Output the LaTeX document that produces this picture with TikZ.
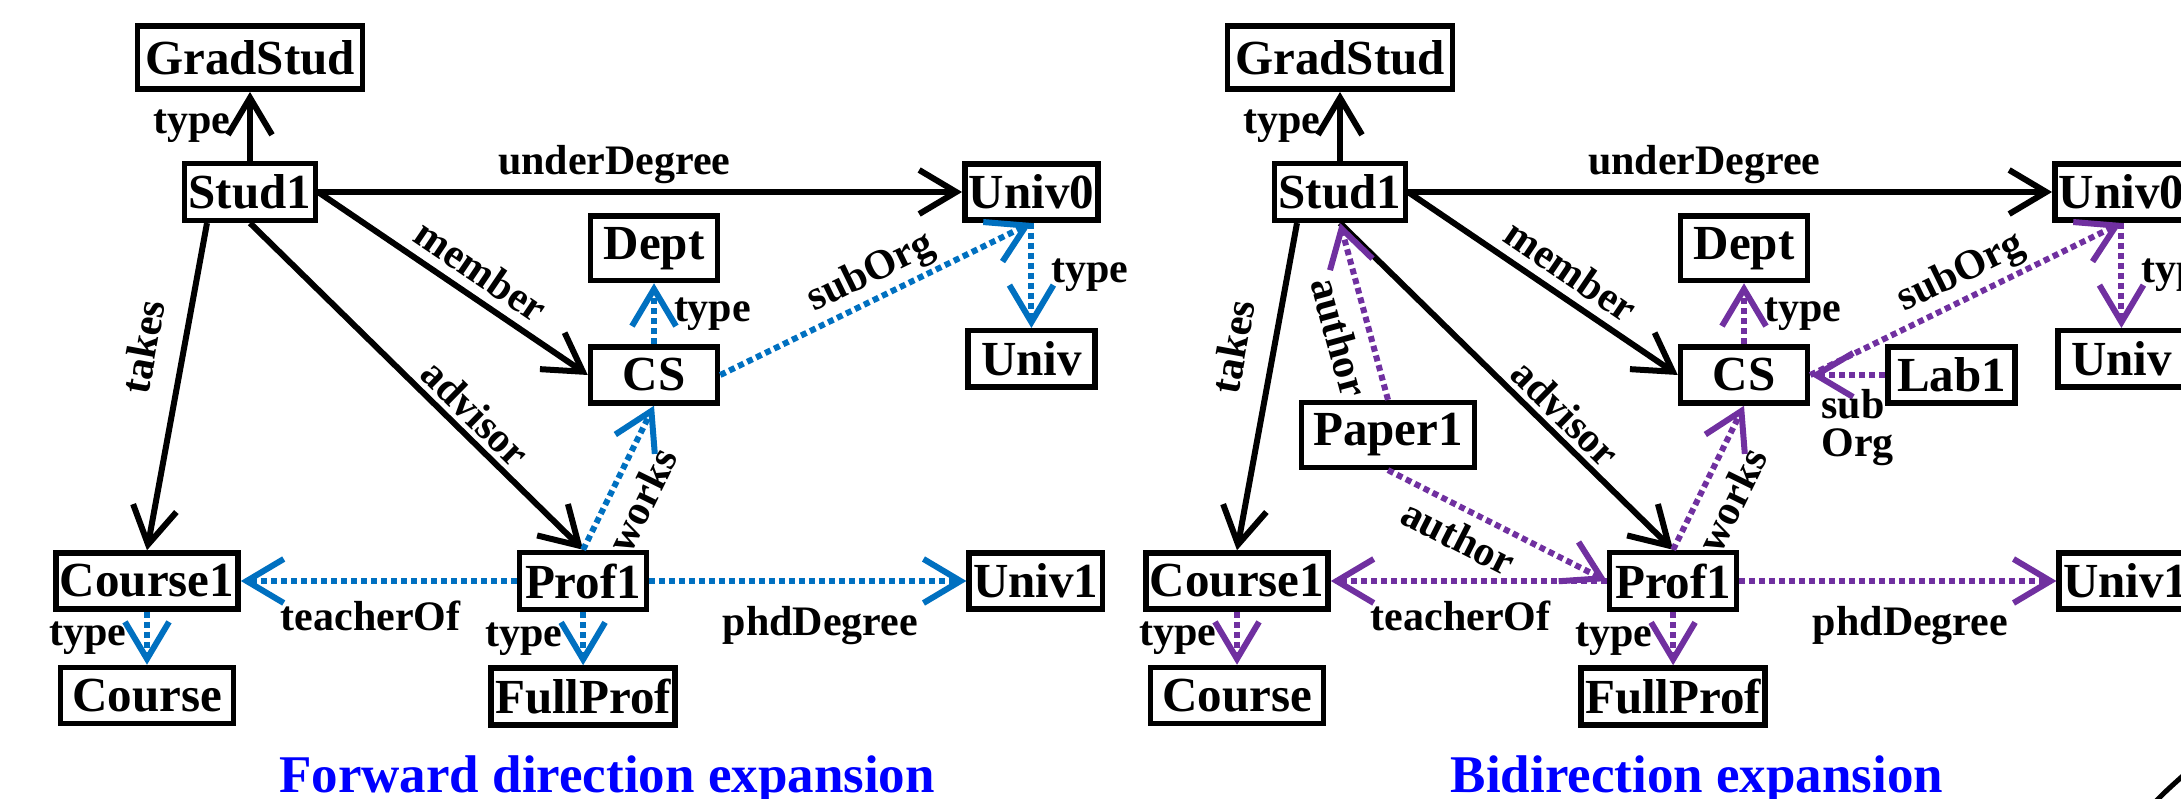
\documentclass[tikz,border=0pt]{standalone}
\usepackage{fontspec}
\setmainfont{Liberation Serif}
\usepackage{tikz}
\usetikzlibrary{positioning, arrows.meta}
\definecolor{cFwd}{HTML}{0070C0}
\definecolor{cBi}{HTML}{7030A0}
\definecolor{cTitle}{HTML}{0000FF}
\tikzset{
  ent/.style={
    rectangle, draw=black, line width=5.5pt, minimum width=127pt, minimum height=56pt,
    inner xsep=4pt, inner ysep=11pt, font=\fontsize{49}{49}\selectfont\bfseries
  },
  lbl/.style={font=\fontsize{42}{38}\selectfont\bfseries, text=black, inner sep=3pt},
  rel/.style={-{Straight Barb[length=37pt, width=44pt]}, line width=6pt, color=black},
  expd/.style={
    -{Straight Barb[length=37pt, width=44pt]}, line width=6pt, color=#1,
    dash pattern=on 6pt off 4pt
  },
  paneltitle/.style={font=\fontsize{53}{53}\selectfont\bfseries, text=cTitle, anchor=base},
}

\begin{document}
\begin{tikzpicture}[x=1pt, y=-1pt]
  \useasboundingbox (0,0) rectangle (2181,799);

  % forward direction expansion
  \node[ent] (stud) at (250,192) {Stud1};
  \node[ent, minimum width=225pt, minimum height=63pt, above=69pt of stud] (grad) {GradStud};
  \node[ent, right=644pt of stud] (univ0) {Univ0};
  \node[ent, below=105pt of univ0] (univ) {Univ};
  \node[ent] (cs) at (654,375) {CS};
  \node[ent, above=61pt of cs] (dept) {Dept};
  \node[ent, minimum width=173pt] (course1) at (147,581) {Course1};
  \node[ent, right=276pt of course1] (prof) {Prof1};
  \node[ent, right=317pt of prof] (univ1) {Univ1};
  \node[ent, minimum width=173pt, below=53pt of course1] (course) {Course};
  \node[ent, below=53pt of prof] (fullprof) {FullProf};

  \draw[rel] (stud.north) -- (grad.south) node[lbl, midway, left=14pt] {type};
  \draw[rel] (stud.east) -- (univ0.west) node[lbl, pos=0.46, above=2pt] {underDegree};
  \draw[rel] (stud.east) -- (cs.west) node[lbl, sloped, pos=0.55, above=6pt] {member};
  \draw[rel] (stud.south) -- (prof.north) node[lbl, sloped, pos=0.63, above=2pt] {advisor};
  \draw[rel] ([xshift=-43pt]stud.south) -- (course1.north)
    node[lbl, sloped, pos=0.4, above=20pt] {takes};

  \draw[expd=cFwd] (cs.north) -- (dept.south) node[lbl, midway, right=14pt] {type};
  \draw[expd=cFwd] (cs.east) -- (univ0.south) node[lbl, sloped, pos=0.52, above=0pt] {subOrg};
  \draw[expd=cFwd] (univ0.south) -- (univ.north) node[lbl, midway, right=14pt] {type};
  \draw[expd=cFwd] (prof.north) -- (cs.south) node[lbl, sloped, pos=0.44, below=10pt] {works};
  \draw[expd=cFwd] (prof.west) -- (course1.east) node[lbl, pos=0.53, below=14pt] {teacherOf};
  \draw[expd=cFwd] (prof.east) -- (univ1.west) node[lbl, pos=0.54, below=19pt] {phdDegree};
  \draw[expd=cFwd] (course1.south) -- (course.north) node[lbl, midway, left=15pt] {type};
  \draw[expd=cFwd] (prof.south) -- (fullprof.north) node[lbl, midway, left=15pt] {type};

  \node[paneltitle] (fwdtitle) at (607,792) {Forward direction expansion};

  % bidirection expansion
  \begin{scope}[xshift=1090pt]
    \node[ent] (bstud) at (250,192) {Stud1};
    \node[ent, minimum width=225pt, minimum height=63pt, above=69pt of bstud] (bgrad) {GradStud};
    \node[ent, right=644pt of bstud] (buniv0) {Univ0};
    \node[ent, below=105pt of buniv0] (buniv) {Univ};
    \node[ent] (bcs) at (654,375) {CS};
    \node[ent, above=61pt of bcs] (bdept) {Dept};
    \node[ent, right=75pt of bcs] (lab) {Lab1};
    \node[ent, minimum width=173pt] (paper) at (298,435) {Paper1};
    \node[ent, minimum width=173pt] (bcourse1) at (147,581) {Course1};
    \node[ent, right=276pt of bcourse1] (bprof) {Prof1};
    \node[ent, right=317pt of bprof] (buniv1) {Univ1};
    \node[ent, minimum width=173pt, below=53pt of bcourse1] (bcourse) {Course};
    \node[ent, below=53pt of bprof] (bfullprof) {FullProf};

    \draw[rel] (bstud.north) -- (bgrad.south) node[lbl, midway, left=14pt] {type};
    \draw[rel] (bstud.east) -- (buniv0.west) node[lbl, pos=0.46, above=2pt] {underDegree};
    \draw[rel] (bstud.east) -- (bcs.west) node[lbl, sloped, pos=0.55, above=6pt] {member};
    \draw[rel] (bstud.south) -- (bprof.north) node[lbl, sloped, pos=0.63, above=2pt] {advisor};
    \draw[rel] ([xshift=-43pt]bstud.south) -- (bcourse1.north)
      node[lbl, sloped, pos=0.4, above=20pt] {takes};

    \draw[expd=cBi] (bcs.north) -- (bdept.south) node[lbl, midway, right=14pt] {type};
    \draw[expd=cBi] (bcs.east) -- (buniv0.south) node[lbl, sloped, pos=0.52, above=0pt] {subOrg};
    \draw[expd=cBi] (buniv0.south) -- (buniv.north) node[lbl, midway, right=14pt] {type};
    \draw[expd=cBi] (lab.west) -- (bcs.east) node[lbl, pos=0.37, below=8pt, align=left] {sub\\Org};
    \draw[expd=cBi] (paper.north) -- (bstud.south) node[lbl, sloped, pos=0.4, below=9pt] {author};
    \draw[expd=cBi] (paper.south) -- (bprof.west) node[lbl, sloped, pos=0.38, below=7pt] {author};
    \draw[expd=cBi] (bprof.north) -- (bcs.south) node[lbl, sloped, pos=0.44, below=10pt] {works};
    \draw[expd=cBi] (bprof.west) -- (bcourse1.east) node[lbl, pos=0.53, below=14pt] {teacherOf};
    \draw[expd=cBi] (bprof.east) -- (buniv1.west) node[lbl, pos=0.54, below=19pt] {phdDegree};
    \draw[expd=cBi] (bcourse1.south) -- (bcourse.north) node[lbl, midway, left=15pt] {type};
    \draw[expd=cBi] (bprof.south) -- (bfullprof.north) node[lbl, midway, left=15pt] {type};

    \node[paneltitle] (bititle) at (607,792) {Bidirection expansion};
  \end{scope}

  \draw[line width=5pt] (2154,803) .. controls (2166,791) .. (2186,773);
\end{tikzpicture}
\end{document}
